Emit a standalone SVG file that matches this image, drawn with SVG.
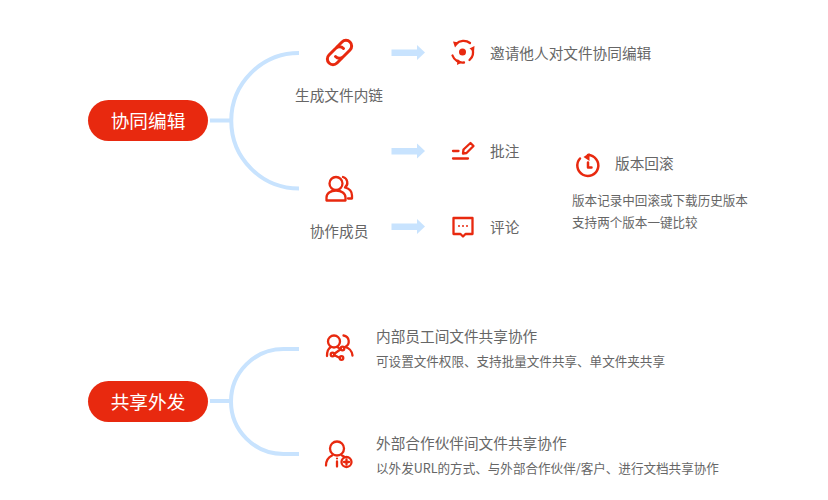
<svg xmlns="http://www.w3.org/2000/svg" width="828" height="500" viewBox="0 0 828 500">
<style>
text{font-family:"Noto Sans CJK SC","Noto Sans",sans-serif;fill:#666;font-size:14.67px}
.pt{fill:#fff;font-size:18.67px;text-anchor:middle}
.pill{fill:#e8290f}
.cur{fill:none;stroke:#c8e3fe;stroke-width:4}
.arr{fill:#c8e3fe}
.ic{fill:none;stroke:#e8290f;stroke-width:2.300;stroke-linecap:round;stroke-linejoin:round}
.icf{fill:#e8290f}
.s{font-size:12.57px}
.c{text-anchor:middle}
</style>
<defs><path id="a" d="M391.500 49.500H417V45L425 52.500 417 60V56H391.500z"/></defs>
<g id="connectors">
<path class="cur" d="M299 53A67.750 67.750 0 0 0 299 188.500M210 120.500H231"/>
<path class="cur" d="M299 349H283.500A52.500 52.500 0 0 0 283.500 454H299M210 401H231"/>
<use href="#a" class="arr"/>
<use href="#a" class="arr" y="98.500"/>
<use href="#a" class="arr" y="174"/>
</g>
<g id="n-collab"><rect class="pill" x="88" y="100" width="120" height="41" rx="20.500"/><text class="pt" x="148" y="128">协同编辑</text></g>
<g id="n-share"><rect class="pill" x="88" y="381" width="120" height="41" rx="20.500"/><text class="pt" x="148" y="408.500">共享外发</text></g>
<g id="n-link"><g class="ic" style="stroke-width:3"><path d="M337 47l5-5a5.500 5.500 0 0 1 8 8l-6.500 6.500a5.500 5.500 0 0 1-8 0"/><path d="M342 58l-5 5a5.500 5.500 0 0 1-8-8l6.500-6.500a5.500 5.500 0 0 1 8 0"/></g><text class="c" x="339" y="100.500">生成文件内链</text></g>
<g id="n-invite"><path class="ic" d="M456 44a10.500 10.500 0 0 1 14-1M472.500 49a10.500 10.500 0 0 1-3 11M464 62.500a10.500 10.500 0 0 1-11.500-7"/><circle class="icf" cx="462.500" cy="52" r="3.500"/><path class="icf" d="M453 41.500l6 1-4 5zM474.500 46l-.5 6-4.500-3.500zM457.500 59l4.500 3.500-5 2.500z"/><text x="490" y="58.500">邀请他人对文件协同编辑</text></g>
<g id="n-note"><path class="ic" d="M453 151h5.500M453 158.500h15M463.500 149.500l7-6.500 3 3-7 7-3.500.500z"/><text x="490" y="157">批注</text></g>
<g id="n-members"><g class="ic"><circle cx="336" cy="183.500" r="6.500"/><path d="M326.500 200.500v-3c0-4 4-7 9.500-7s9.500 3 9.500 7v3zM343 177a6 6 0 0 1 2 10.500c4 1 7 4 7 8v3h-4"/></g><text class="c" x="339" y="236.500">协作成员</text></g>
<g id="n-comment"><path class="ic" d="M453.500 218h19v16h-7l-2.500 2.500-2.500-2.500h-7z"/><circle class="icf" cx="459" cy="226" r="1"/><circle class="icf" cx="463" cy="226" r="1"/><circle class="icf" cx="467" cy="226" r="1"/><text x="490" y="233">评论</text></g>
<g id="n-version"><path class="ic" style="stroke-width:2.500" d="M588 155a10.500 10.500 0 1 1-8 3.500M588 162.500V167.500H591.500"/><path class="icf" d="M589.500 153v8l-6-4z"/><text x="615" y="169">版本回滚</text><text class="s" x="572" y="205">版本记录中回滚或下载历史版本</text><text class="s" x="572" y="227">支持两个版本一键比较</text></g>
<g id="n-internal"><g class="ic"><circle cx="334" cy="341.500" r="6"/><path d="M327 356c0-5 2-8 4-9M337 347l2 1M343.500 335.500a6 6 0 0 1 1.500 11.500c4 1 7 4 7.500 8.500"/><path d="M334 354l7-5M334 355l6 3"/></g><circle class="ic" cx="332.500" cy="354.500" r="1.800"/><circle class="ic" cx="342.500" cy="348.500" r="1.800"/><circle class="ic" cx="341.500" cy="358" r="1.800"/><text x="376" y="342">内部员工间文件共享协作</text><text class="s" x="376" y="366">可设置文件权限、支持批量文件共享、单文件夹共享</text></g>
<g id="n-external"><g class="ic"><circle cx="337" cy="448.500" r="7"/><path d="M326 465.500c0-5 2-8 6-10M342 455.500l2 1M337 461.500v5"/><circle cx="346.500" cy="462" r="5"/><path d="M344 462h5M346.500 459.500v5"/></g><circle class="icf" cx="337" cy="458.500" r="1.100"/><text x="376" y="449">外部合作伙伴间文件共享协作</text><text class="s" x="376" y="473">以外发URL的方式、与外部合作伙伴/客户、进行文档共享协作</text></g>
</svg>
